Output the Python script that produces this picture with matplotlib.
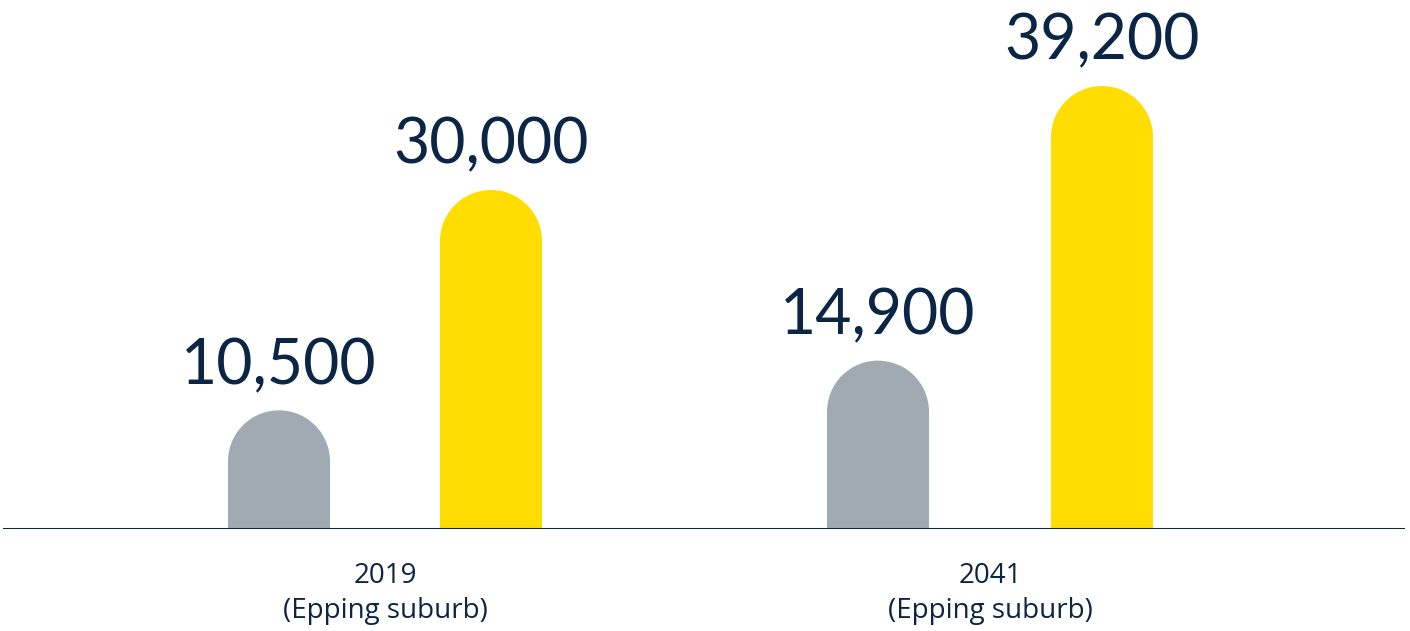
import matplotlib
matplotlib.use("Agg")
import matplotlib.pyplot as plt
from matplotlib.patches import Ellipse, Rectangle

plt.rcParams['font.family'] = ['Lato', 'DejaVu Sans']

categories = ["2019\n(Epping suburb)", "2041\n(Epping suburb)"]
gray_values = [10500, 14900]
yellow_values = [30000, 39200]
labels_gray = ["10,500", "14,900"]
labels_yellow = ["30,000", "39,200"]

GRAY = "#A0AAB2"
YELLOW = "#FFDD00"
NAVY = "#0B2545"

W, H, DPI = 14.1, 6.31, 100
fig = plt.figure(figsize=(W, H), dpi=DPI)
base_px = 102
ax = fig.add_axes([0, base_px / 631, 1, 1 - base_px / 631])

px_per_unit = 0.0113
group_px = 605.0
left_px = 385.0
ax.set_xlim(-left_px / group_px, (1410 - left_px) / group_px)
ax.set_ylim(0, (631 - base_px) / px_per_unit)

bar_w = 102 / group_px
half_gap = [106 / group_px, 112 / group_px]
r_y = (102 / 2) / px_per_unit

def rounded_bar(x, v, color):
    ax.add_patch(Rectangle((x - bar_w / 2, 0), bar_w, v - r_y, facecolor=color, edgecolor='none', zorder=2))
    ax.add_patch(Ellipse((x, v - r_y), bar_w, 2 * r_y, facecolor=color, edgecolor='none', zorder=2))

for i, (g, y) in enumerate(zip(gray_values, yellow_values)):
    xg = i - half_gap[i]
    xy = i + half_gap[i]
    rounded_bar(xg, g, GRAY)
    rounded_bar(xy, y, YELLOW)
    ax.annotate(labels_gray[i], (xg, g), xytext=(0, 19), textcoords='offset points',
                ha='center', va='baseline', fontsize=45, color=NAVY)
    ax.annotate(labels_yellow[i], (xy, y), xytext=(0, 19), textcoords='offset points',
                ha='center', va='baseline', fontsize=45, color=NAVY)

ax.axhline(0, xmin=4 / 1410, xmax=1403 / 1410, color=NAVY, lw=2.2, zorder=3)

ax.set_xticks([0, 1])
ax.set_xticklabels(categories, fontsize=20, color=NAVY, linespacing=1.32,
                   family=['Open Sans', 'DejaVu Sans'])
ax.tick_params(axis='x', length=0, pad=24)
ax.set_yticks([])
for s in ax.spines.values():
    s.set_visible(False)
ax.patch.set_alpha(0)

fig.savefig("out.png", dpi=DPI)
